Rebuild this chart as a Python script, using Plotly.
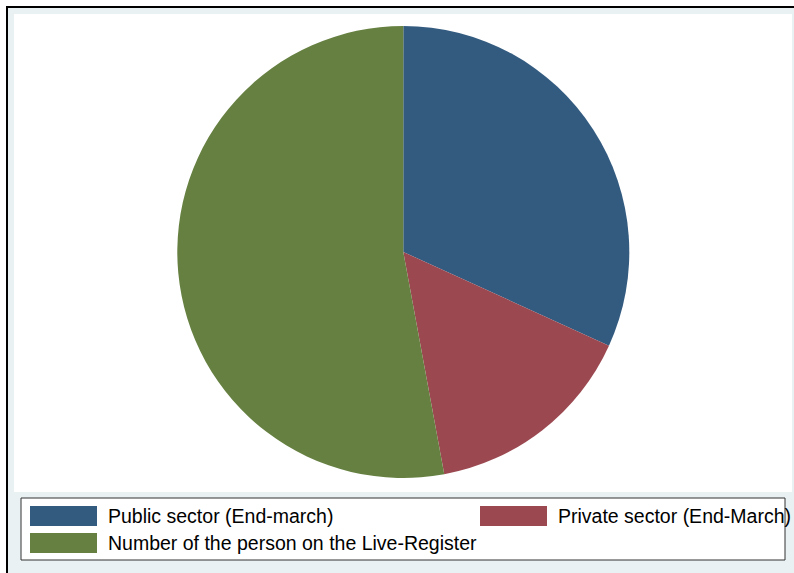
import plotly.graph_objects as go

# Data
categories = ["Public sector (End-march)", "Private sector (End-March)",
              "Number of the person on the Live-Register"]
values = [31.8, 15.3, 52.9]
colors = ["#335b80", "#9b4850", "#668041"]

W, H = 794, 573


def px(x):
    return x / W


def py(y):
    return 1 - y / H


fig = go.Figure()
fig.add_trace(go.Pie(
    labels=categories,
    values=values,
    marker=dict(colors=colors, line=dict(width=0)),
    sort=False,
    direction="clockwise",
    rotation=0,
    textinfo="none",
    hoverinfo="label+value",
    showlegend=False,
    domain=dict(x=[px(403.3 - 227.5), px(403.3 + 227.5)], y=[py(478), py(26)]),
))

shapes = []
# outer bluish graph region
shapes.append(dict(type="rect", xref="paper", yref="paper", x0=px(7), x1=1, y0=0, y1=py(7),
                   fillcolor="#e9f1f3", line=dict(width=0), layer="below"))
# black frame lines (top and left)
shapes.append(dict(type="line", xref="paper", yref="paper", x0=px(6), x1=1, y0=py(7), y1=py(7),
                   line=dict(color="black", width=2), layer="below"))
shapes.append(dict(type="line", xref="paper", yref="paper", x0=px(7), x1=px(7), y0=0, y1=py(6),
                   line=dict(color="black", width=2), layer="below"))
# white plot region
shapes.append(dict(type="rect", xref="paper", yref="paper", x0=px(14), x1=px(792), y0=py(492), y1=py(14),
                   fillcolor="white", line=dict(width=0), layer="below"))
# legend box
shapes.append(dict(type="rect", xref="paper", yref="paper", x0=px(21), x1=px(785), y0=py(560), y1=py(498),
                   fillcolor="white", line=dict(color="#333333", width=1), layer="below"))

# legend swatches and labels
legend_pos = [(30, 506), (480, 506), (30, 533)]
annotations = []
for (lx, ly), c, lab in zip(legend_pos, colors, categories):
    shapes.append(dict(type="rect", xref="paper", yref="paper", x0=px(lx), x1=px(lx + 67),
                       y0=py(ly + 20), y1=py(ly), fillcolor=c, line=dict(width=0)))
    annotations.append(dict(xref="paper", yref="paper", x=px(lx + 76), y=py(ly + 10),
                            text=lab, showarrow=False, xanchor="left", yanchor="middle",
                            font=dict(family="Liberation Sans, Arial, sans-serif", size=19.5, color="black")))

fig.update_layout(
    width=W, height=H,
    margin=dict(l=0, r=0, t=0, b=0),
    paper_bgcolor="white",
    plot_bgcolor="white",
    shapes=shapes,
    annotations=annotations,
    showlegend=False,
)

fig.write_html("out.html",
               config={"displayModeBar": False},
               post_script="document.body.style.margin='0';document.body.style.overflow='hidden';")
